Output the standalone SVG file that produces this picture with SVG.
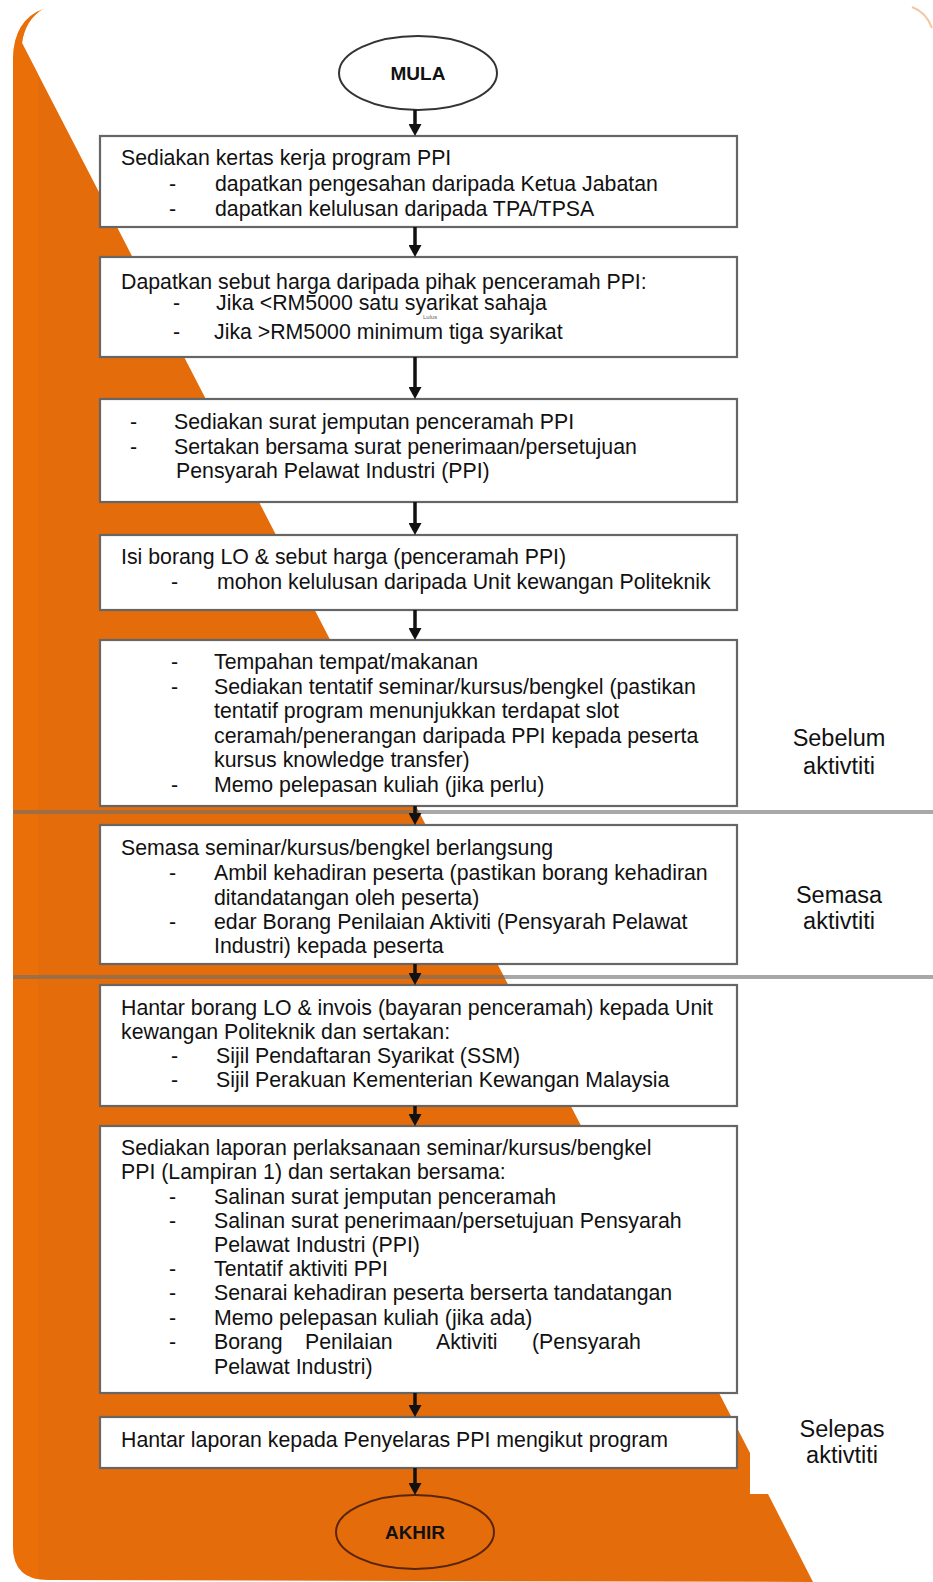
<svg xmlns="http://www.w3.org/2000/svg" width="933" height="1582" viewBox="0 0 933 1582">
<defs>
<style>
.t{font-family:"Liberation Sans",Arial,sans-serif;font-size:21.3px;fill:#111}
.lab{font-family:"Liberation Sans",Arial,sans-serif;font-size:23.5px;fill:#111;text-anchor:middle}
.term{font-family:"Liberation Sans",Arial,sans-serif;font-size:19px;font-weight:bold;fill:#111;text-anchor:middle}
.box{fill:#fff;stroke:#666;stroke-width:2.2}
.sep{stroke:#6e6e6e;stroke-opacity:0.6;stroke-width:4}
.arr{stroke:#111;stroke-width:3.5;fill:none;marker-end:url(#ah)}
</style>
<marker id="ah" markerUnits="userSpaceOnUse" viewBox="0 0 12 13" markerWidth="12" markerHeight="13" refX="6" refY="6.5" orient="auto">
<path d="M0,0 L12,6.5 L0,13 z" fill="#111"/>
</marker>
<clipPath id="oc">
<path id="orangePath" d="M43 9 Q14 20 13 58 L13 1546 Q13 1580 48 1580 L813 1582 L768 1494 L750 1494 L750 1453 L22 43 Q25 20 43 9 Z"/>
</clipPath>
</defs>
<rect width="933" height="1582" fill="#fff"/>
<g id="background">
<path d="M43 9 Q14 20 13 58 L13 1546 Q13 1580 48 1580 L813 1582 L768 1494 L750 1494 L750 1453 L22 43 Q25 20 43 9 Z" fill="#E46C0A"/>
<rect x="13" y="0" width="25" height="1582" fill="#EE7208" opacity="0.6" clip-path="url(#oc)"/>
<path d="M912 7 Q926 12 932 28" fill="none" stroke="#E9A060" stroke-width="2" opacity="0.6"/>
</g>
<g id="separators">
<line class="sep" x1="13" y1="812" x2="933" y2="812"/>
<line class="sep" x1="13" y1="977" x2="933" y2="977"/>
</g>
<g id="mula">
<ellipse cx="418" cy="73" rx="79" ry="37" fill="#fff" stroke="#333" stroke-width="2"/>
<text class="term" x="418" y="80">MULA</text>
</g>
<g id="box1">
<rect class="box" x="100" y="136" width="637" height="91"/>
<text class="t" x="121" y="165">Sediakan kertas kerja program PPI</text>
<text class="t" x="169" y="191">-</text>
<text class="t" x="215" y="191">dapatkan pengesahan daripada Ketua Jabatan</text>
<text class="t" x="169" y="216">-</text>
<text class="t" x="215" y="216">dapatkan kelulusan daripada TPA/TPSA</text>
</g>
<g id="box2">
<rect class="box" x="100" y="257" width="637" height="100"/>
<text class="t" x="121" y="289">Dapatkan sebut harga daripada pihak penceramah PPI:</text>
<text class="t" x="173" y="310">-</text>
<text class="t" x="216" y="310">Jika &lt;RM5000 satu syarikat sahaja</text>
<text x="423" y="319" style="font-family:'Liberation Sans',Arial,sans-serif;font-size:6px;fill:#666">Lulus</text>
<text class="t" x="173" y="339">-</text>
<text class="t" x="214" y="339">Jika &gt;RM5000 minimum tiga syarikat</text>
</g>
<g id="box3">
<rect class="box" x="100" y="399" width="637" height="103"/>
<text class="t" x="130" y="429">-</text>
<text class="t" x="174" y="429">Sediakan surat jemputan penceramah PPI</text>
<text class="t" x="130" y="454">-</text>
<text class="t" x="174" y="454">Sertakan bersama surat penerimaan/persetujuan</text>
<text class="t" x="176" y="478">Pensyarah Pelawat Industri (PPI)</text>
</g>
<g id="box4">
<rect class="box" x="100" y="535" width="637" height="75"/>
<text class="t" x="121" y="564">Isi borang LO &amp; sebut harga (penceramah PPI)</text>
<text class="t" x="171" y="589">-</text>
<text class="t" x="217" y="589">mohon kelulusan daripada Unit kewangan Politeknik</text>
</g>
<g id="box5">
<rect class="box" x="100" y="640" width="637" height="166"/>
<text class="t" x="171" y="669">-</text>
<text class="t" x="214" y="669">Tempahan tempat/makanan</text>
<text class="t" x="171" y="694">-</text>
<text class="t" x="214" y="694">Sediakan tentatif seminar/kursus/bengkel (pastikan</text>
<text class="t" x="214" y="718">tentatif program menunjukkan terdapat slot</text>
<text class="t" x="214" y="743">ceramah/penerangan daripada PPI kepada peserta</text>
<text class="t" x="214" y="767">kursus knowledge transfer)</text>
<text class="t" x="171" y="792">-</text>
<text class="t" x="214" y="792">Memo pelepasan kuliah (jika perlu)</text>
</g>
<g id="box6">
<rect class="box" x="100" y="825" width="637" height="139"/>
<text class="t" x="121" y="855">Semasa seminar/kursus/bengkel berlangsung</text>
<text class="t" x="169" y="880">-</text>
<text class="t" x="214" y="880">Ambil kehadiran peserta (pastikan borang kehadiran</text>
<text class="t" x="214" y="905">ditandatangan oleh peserta)</text>
<text class="t" x="169" y="929">-</text>
<text class="t" x="214" y="929">edar Borang Penilaian Aktiviti (Pensyarah Pelawat</text>
<text class="t" x="214" y="953">Industri) kepada peserta</text>
</g>
<g id="box7">
<rect class="box" x="100" y="985" width="637" height="121"/>
<text class="t" x="121" y="1015">Hantar borang LO &amp; invois (bayaran penceramah) kepada Unit</text>
<text class="t" x="121" y="1039">kewangan Politeknik dan sertakan:</text>
<text class="t" x="171" y="1063">-</text>
<text class="t" x="216" y="1063">Sijil Pendaftaran Syarikat (SSM)</text>
<text class="t" x="171" y="1087">-</text>
<text class="t" x="216" y="1087">Sijil Perakuan Kementerian Kewangan Malaysia</text>
</g>
<g id="box8">
<rect class="box" x="100" y="1126" width="637" height="267"/>
<text class="t" x="121" y="1155">Sediakan laporan perlaksanaan seminar/kursus/bengkel</text>
<text class="t" x="121" y="1179">PPI (Lampiran 1) dan sertakan bersama:</text>
<text class="t" x="169" y="1204">-</text>
<text class="t" x="214" y="1204">Salinan surat jemputan penceramah</text>
<text class="t" x="169" y="1228">-</text>
<text class="t" x="214" y="1228">Salinan surat penerimaan/persetujuan Pensyarah</text>
<text class="t" x="214" y="1252">Pelawat Industri (PPI)</text>
<text class="t" x="169" y="1276">-</text>
<text class="t" x="214" y="1276">Tentatif aktiviti PPI</text>
<text class="t" x="169" y="1300">-</text>
<text class="t" x="214" y="1300">Senarai kehadiran peserta berserta tandatangan</text>
<text class="t" x="169" y="1325">-</text>
<text class="t" x="214" y="1325">Memo pelepasan kuliah (jika ada)</text>
<text class="t" x="169" y="1349">-</text>
<text class="t" x="214" y="1349">Borang</text>
<text class="t" x="305" y="1349">Penilaian</text>
<text class="t" x="436" y="1349">Aktiviti</text>
<text class="t" x="532" y="1349">(Pensyarah</text>
<text class="t" x="214" y="1374">Pelawat Industri)</text>
</g>
<g id="box9">
<rect class="box" x="100" y="1417" width="637" height="51"/>
<text class="t" x="121" y="1447">Hantar laporan kepada Penyelaras PPI mengikut program</text>
</g>
<g id="akhir">
<ellipse cx="415" cy="1532" rx="79" ry="37" fill="none" stroke="#5a240a" stroke-width="2"/>
<text class="term" x="415" y="1539">AKHIR</text>
</g>
<g id="phase-labels">
<text class="lab" x="839" y="746">Sebelum</text>
<text class="lab" x="839" y="774">aktivtiti</text>
<text class="lab" x="839" y="903">Semasa</text>
<text class="lab" x="839" y="929">aktivtiti</text>
<text class="lab" x="842" y="1437">Selepas</text>
<text class="lab" x="842" y="1463">aktivtiti</text>
</g>
<g id="connectors">
<line class="arr" x1="415" y1="110" x2="415" y2="130"/>
<line class="arr" x1="415" y1="227" x2="415" y2="251"/>
<line class="arr" x1="415" y1="357" x2="415" y2="393"/>
<line class="arr" x1="415" y1="502" x2="415" y2="529"/>
<line class="arr" x1="415" y1="610" x2="415" y2="634"/>
<line class="arr" x1="415" y1="806" x2="415" y2="819"/>
<line class="arr" x1="415" y1="964" x2="415" y2="979"/>
<line class="arr" x1="415" y1="1106" x2="415" y2="1120"/>
<line class="arr" x1="415" y1="1393" x2="415" y2="1411"/>
<line class="arr" x1="415" y1="1468" x2="415" y2="1489"/>
</g>
</svg>
